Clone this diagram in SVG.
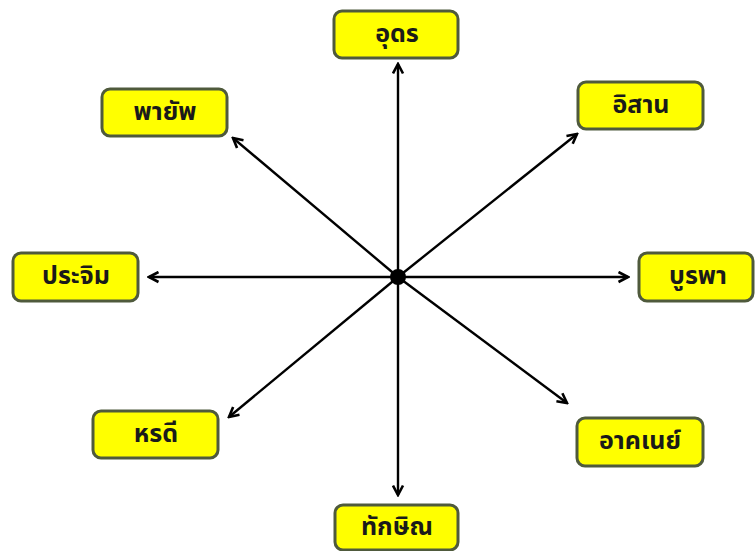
<svg xmlns="http://www.w3.org/2000/svg" width="755" height="551" viewBox="0 0 755 551">
<style>
.box{fill:#ffff00;stroke:#4f5a3c;stroke-width:3}
.lbl{font-family:"Noto Sans Thai","Tahoma","Loma","Garuda","DejaVu Sans",sans-serif;font-weight:bold;font-size:25px;fill:#1a1a1a;text-anchor:middle;dominant-baseline:central}
.arr{stroke:#000;stroke-width:2.4;fill:none;marker-end:url(#ah)}
</style>
<defs>
<marker id="ah" viewBox="0 0 13 13" refX="11" refY="6.5" markerWidth="13" markerHeight="13" markerUnits="userSpaceOnUse" orient="auto">
<path d="M1.5,1.5 L11,6.5 L1.5,11.5" fill="none" stroke="#000" stroke-width="2.6"/>
</marker>
</defs>
<rect width="755" height="551" fill="#fff"/>
<g id="connectors">
<line class="arr" x1="398" y1="277" x2="398" y2="64"/>
<line class="arr" x1="398" y1="277" x2="398" y2="495"/>
<line class="arr" x1="398" y1="277" x2="149" y2="277"/>
<line class="arr" x1="398" y1="277" x2="628" y2="277"/>
<line class="arr" x1="398" y1="277" x2="233" y2="138"/>
<line class="arr" x1="398" y1="277" x2="577" y2="134"/>
<line class="arr" x1="398" y1="277" x2="229" y2="417"/>
<line class="arr" x1="398" y1="277" x2="567" y2="403"/>
<circle cx="398" cy="277" r="8" fill="#000"/>
</g>
<g id="n-udon"><rect class="box" x="334" y="11" width="124" height="47" rx="8"/><text class="lbl" x="397" y="34">อุดร</text></g>
<g id="n-payap"><rect class="box" x="102" y="89" width="125" height="47" rx="8"/><text class="lbl" x="165" y="111.5">พายัพ</text></g>
<g id="n-isan"><rect class="box" x="578" y="82" width="125" height="47" rx="8"/><text class="lbl" x="641" y="104.5">อิสาน</text></g>
<g id="n-prachim"><rect class="box" x="13" y="253" width="125" height="48" rx="8"/><text class="lbl" x="76" y="276">ประจิม</text></g>
<g id="n-burapa"><rect class="box" x="639" y="253" width="114" height="48" rx="8"/><text class="lbl" x="698" y="276">บูรพา</text></g>
<g id="n-horadi"><rect class="box" x="93" y="411" width="125" height="47" rx="8"/><text class="lbl" x="156" y="433.5">หรดี</text></g>
<g id="n-akhane"><rect class="box" x="577" y="418" width="126" height="48" rx="8"/><text class="lbl" x="640" y="441">อาคเนย์</text></g>
<g id="n-thaksin"><rect class="box" x="335" y="505" width="123" height="45" rx="8"/><text class="lbl" x="397" y="527">ทักษิณ</text></g>
</svg>
